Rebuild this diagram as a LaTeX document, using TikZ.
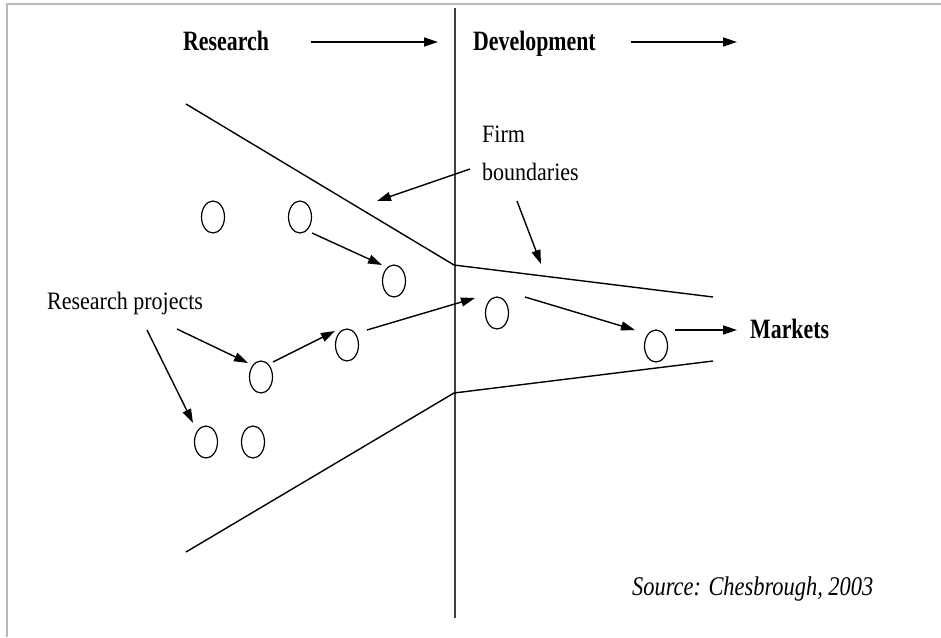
\documentclass[tikz,border=0pt]{standalone}
\usepackage{fontspec}
\setmainfont{Liberation Serif}
\newfontfamily\hdfont[FakeStretch=0.78]{Liberation Serif}
\newfontfamily\labfont[FakeStretch=0.88]{Liberation Serif}
\newfontfamily\srcfont[FakeStretch=0.83]{Liberation Serif}
\usetikzlibrary{shapes.geometric, arrows.meta, calc}
\begin{document}
\begin{tikzpicture}[x=1pt,y=-1pt,
  proj/.style={draw, ellipse, minimum width=23pt, minimum height=32pt, inner sep=0pt, line width=1.2pt},
  arr/.style={-{Triangle[length=14pt,width=9pt]}, line width=1.4pt},
  bound/.style={line width=1.4pt},
  vline/.style={line width=2pt, black!75},
  frame/.style={line width=2pt, black!28},
  hd/.style={font=\hdfont\bfseries\fontsize{28}{30}\selectfont, inner sep=0pt},
  lab/.style={font=\labfont\fontsize{25}{38}\selectfont, inner sep=0pt},
  src/.style={font=\srcfont\itshape\fontsize{27}{30}\selectfont, inner sep=0pt}]
\useasboundingbox[fill=white] (0,0) rectangle (941,637);
\draw[frame] (7,637) -- (7,4) -- (941,4);
% vertical divider
\draw[vline] (455,8) -- (455,618);
% firm boundaries
\draw[bound] (186,104) -- (454,265) -- (713,297);
\draw[bound] (186,552) -- (454,393) -- (713,361);
% labels
\node[hd, anchor=base west] (res) at (183,50) {Research};
\node[hd, anchor=base west] (dev) at (473,50) {Development};
\node[hd, anchor=base west] (mk) at (750,338) {Markets};
\node[lab, anchor=base west] (rp) at (47,309) {Research projects};
\node[lab, anchor=west, align=left] (fb) at (482,153) {Firm\\boundaries};
\node[src, anchor=base west] (srcn) at (632,595) {Source: Chesbrough, 2003};
% projects
\node[proj] (c1) at (213,217) {};
\node[proj] (c2) at (300,217) {};
\node[proj] (c3) at (394,281) {};
\node[proj] (c4) at (347,345) {};
\node[proj] (c5) at (261,377) {};
\node[proj] (c6) at (206,442) {};
\node[proj] (c7) at (253,442) {};
\node[proj] (c8) at (497,313) {};
\node[proj] (c9) at (656,346) {};
% free ends
\coordinate (devend) at (737,42);
\coordinate (ub1) at (541,264);
\coordinate (ub2) at (377,201);
% top arrows
\draw[arr] ($(res.base east)+(42,-8)$) -- ($(dev.base west)+(-35,-8)$);
\draw[arr] ($(dev.base east)+(35,-8)$) -- (devend);
% project flow
\draw[arr] ($(c2)+(12,16)$) -- ($(c3)+(-12,-16)$);
\draw[arr] ($(c5)+(12,-15)$) -- ($(c4)+(-12,-14)$);
\draw[arr] ($(c4)+(20,-15)$) -- ($(c8)+(-22,-15)$);
\draw[arr] ($(c8)+(28,-16)$) -- ($(c9)+(-21,-16)$);
\draw[arr] ($(c9)+(19,-16)$) -- ($(mk.base west)+(-13,-8)$);
% label pointers
\draw[arr] ($(rp.base west)+(130,20)$) -- ($(c5)+(-13,-14)$);
\draw[arr] ($(rp.base west)+(100,21)$) -- ($(c6)+(-13,-19)$);
\draw[arr] ($(fb.west)+(-12,16)$) -- (ub2);
\draw[arr] ($(fb.west)+(35,48)$) -- (ub1);
\end{tikzpicture}
\end{document}
